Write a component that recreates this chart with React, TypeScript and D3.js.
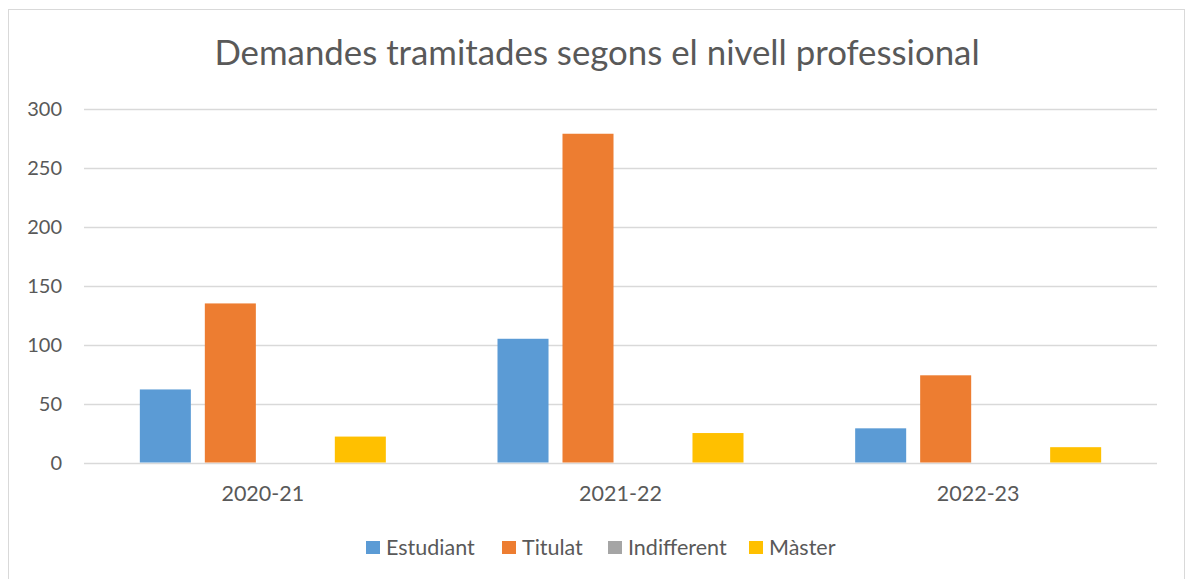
import React, { useRef, useEffect } from "react";
import * as d3 from "d3";

// chart data
const categories = ["2020-21", "2021-22", "2022-23"];
const seriesNames = ["Estudiant", "Titulat", "Indifferent", "Màster"];
const estudiant = [62, 105, 29];
const titulat = [135, 279, 74];
const indifferent = [0, 0, 0];
const master = [22, 25, 13];
const yTicks = [0, 50, 100, 150, 200, 250, 300];

const colors = ["#5B9BD5", "#ED7D31", "#A5A5A5", "#FFC000"];

const App = () => {
  const svgRef = useRef<SVGSVGElement>(null);

  useEffect(() => {
    const width = 1186;
    const height = 579;
    const margin = { top: 109, right: 29, bottom: 116.5, left: 84 };
    const font = "Lato, 'Open Sans', sans-serif";
    const textColor = "#595959";
    const values = [estudiant, titulat, indifferent, master];

    const svg = d3.select(svgRef.current).attr("width", width).attr("height", height);
    svg.selectAll("*").remove();

    // outer frame
    svg
      .append("rect")
      .attr("x", 8.5)
      .attr("y", 9.5)
      .attr("width", 1176)
      .attr("height", 590)
      .attr("fill", "#fff")
      .attr("stroke", "#d9d9d9")
      .attr("stroke-width", 1);

    const x0 = d3
      .scaleBand()
      .domain(categories)
      .range([margin.left, width - margin.right]);

    const x1 = d3
      .scaleBand()
      .domain(seriesNames)
      .range([0, x0.bandwidth()])
      .paddingInner(0.215)
      .paddingOuter(0.859);

    const y = d3
      .scaleLinear()
      .domain([0, 300])
      .range([height - margin.bottom, margin.top]);

    // gridlines
    svg
      .append("g")
      .selectAll("line")
      .data(yTicks)
      .join("line")
      .attr("x1", margin.left)
      .attr("x2", width - margin.right)
      .attr("y1", (d) => Math.round(y(d)) + 0.5)
      .attr("y2", (d) => Math.round(y(d)) + 0.5)
      .attr("stroke", "#d9d9d9")
      .attr("stroke-width", 1.3);

    // y tick labels
    svg
      .append("g")
      .selectAll("text")
      .data(yTicks)
      .join("text")
      .attr("x", 62)
      .attr("y", (d) => y(d))
      .attr("dy", "0.36em")
      .attr("text-anchor", "end")
      .attr("font-family", font)
      .attr("font-size", 20)
      .attr("fill", textColor)
      .text((d) => d);

    // bars
    const groups = svg
      .append("g")
      .selectAll("g")
      .data(categories)
      .join("g")
      .attr("transform", (d) => `translate(${x0(d)},0)`);

    groups
      .selectAll("rect")
      .data((_, i) => seriesNames.map((s, j) => ({ s, v: values[j][i], c: colors[j] })))
      .join("rect")
      .attr("x", (d) => x1(d.s)!)
      .attr("width", x1.bandwidth())
      .attr("y", (d) => y(d.v))
      .attr("height", (d) => y(0) - y(d.v))
      .attr("fill", (d) => d.c);

    // x labels
    svg
      .append("g")
      .selectAll("text")
      .data(categories)
      .join("text")
      .attr("x", (d) => x0(d)! + x0.bandwidth() / 2)
      .attr("y", 501)
      .attr("text-anchor", "middle")
      .attr("font-family", font)
      .attr("font-size", 21.5)
      .attr("fill", textColor)
      .text((d) => d);

    // title
    svg
      .append("text")
      .attr("x", 597)
      .attr("y", 65)
      .attr("text-anchor", "middle")
      .attr("font-family", font)
      .attr("font-size", 34.8)
      .attr("fill", textColor)
      .text("Demandes tramitades segons el nivell professional");

    // legend
    const legendX = [366, 502, 608, 749];
    const legend = svg
      .append("g")
      .selectAll("g")
      .data(seriesNames)
      .join("g")
      .attr("transform", (_, i) => `translate(${legendX[i]},541)`);
    legend
      .append("rect")
      .attr("width", 14)
      .attr("height", 13)
      .attr("fill", (_, i) => colors[i]);
    legend
      .append("text")
      .attr("x", 20)
      .attr("y", 13.5)
      .attr("font-family", font)
      .attr("font-size", 21.5)
      .attr("fill", textColor)
      .text((d) => d);
  }, []);

  return (
    <div>
      <svg ref={svgRef} style={{ position: "absolute", left: 0, top: 0 }}></svg>
    </div>
  );
};

export default App;
